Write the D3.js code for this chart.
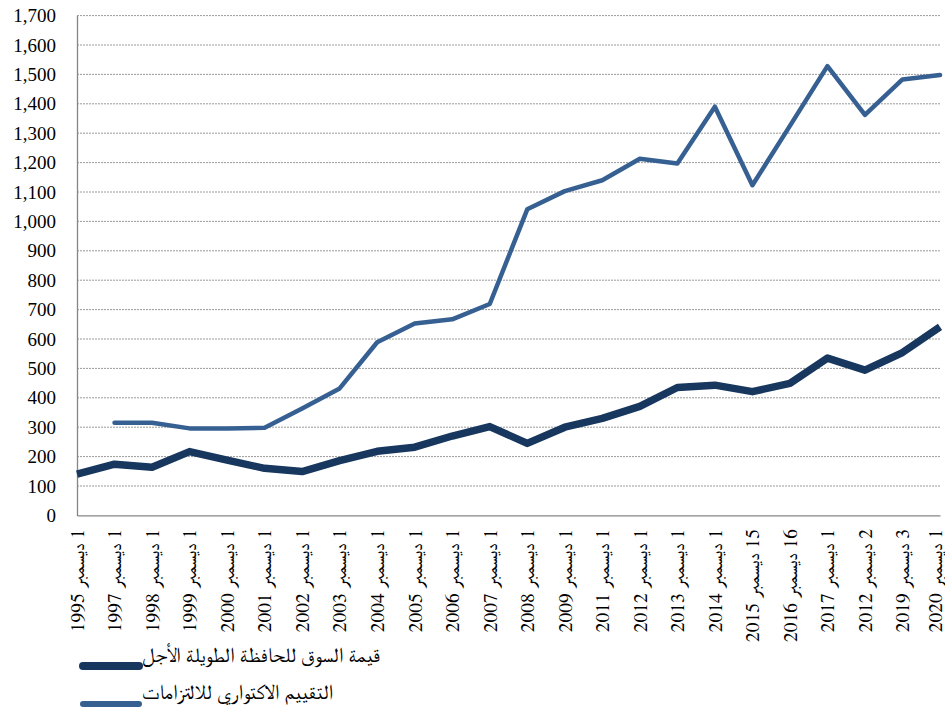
<!DOCTYPE html>
<html><head><meta charset="utf-8">
<script src="https://cdn.jsdelivr.net/npm/d3@7"></script>
<style>
html,body{margin:0;padding:0;background:#fff;}
</style></head>
<body><svg id="c" width="945" height="713"></svg>
<script>
const categories = ["1 ديسمبر 1995","1 ديسمبر 1997","1 ديسمبر 1998","1 ديسمبر 1999","1 ديسمبر 2000","1 ديسمبر 2001","1 ديسمبر 2002","1 ديسمبر 2003","1 ديسمبر 2004","1 ديسمبر 2005","1 ديسمبر 2006","1 ديسمبر 2007","1 ديسمبر 2008","1 ديسمبر 2009","1 ديسمبر 2011","1 ديسمبر 2012","1 ديسمبر 2013","1 ديسمبر 2014","15 ديسمبر 2015","16 ديسمبر 2016","1 ديسمبر 2017","2 ديسمبر 2012","3 ديسمبر 2019","1 ديسمبر 2020"];
const marketValue = [140,174,164,217,188,160,149,186,218,232,270,302,245,300,330,371,435,443,421,449,535,494,554,641];
const actuarialValue = [null,315,315,296,296,298,364,432,589,653,667,719,1041,1103,1140,1213,1197,1390,1123,1325,1528,1362,1483,1498];
const seriesNames = ["قيمة السوق للحافظة الطويلة الأجل","التقييم الاكتواري للالتزامات"];
const yTicks = d3.range(0,1701,100);

const svg = d3.select("#c");
const L=77, R=940, T=15.6, B=515.4;
const x = d3.scalePoint().domain(categories).range([L,R]).padding(0);
const y = d3.scaleLinear().domain([0,1700]).range([B,T]);

// gridlines
svg.append("g").selectAll("line").data(yTicks.filter(d=>d>0)).join("line")
  .attr("x1",L).attr("x2",R).attr("y1",d=>y(d)).attr("y2",d=>y(d))
  .attr("stroke","#9a9a9a").attr("stroke-width",1).attr("stroke-dasharray","2,1");

// y axis
const ya = svg.append("g").attr("transform",`translate(${L},0)`)
  .call(d3.axisLeft(y).tickValues(yTicks).tickFormat(d3.format(",")).tickSize(0).tickPadding(21));
ya.attr("font-family","Liberation Serif");
ya.select(".domain").attr("stroke","#868686").attr("stroke-width",1.3);
ya.selectAll("text").attr("font-size",19).attr("fill","#000").attr("font-family","Liberation Serif");

// x axis
const xa = svg.append("g").attr("transform",`translate(0,${B})`)
  .call(d3.axisBottom(x).tickSize(0).tickFormat(""));
xa.select(".domain").attr("stroke","#868686").attr("stroke-width",1.3);
svg.append("g").selectAll("text").data(categories).join("text")
  .attr("transform",(d,i)=>`translate(${Math.min(x(d),935)},529) rotate(-90)`)
  .attr("direction","rtl").attr("text-anchor","start").attr("dy","0.35em")
  .attr("font-size",19.5).attr("fill","#000").attr("font-family","FreeSerif").text(d=>d);

// lines
const line = d3.line().defined(d=>d[1]!=null).x(d=>x(d[0])).y(d=>y(d[1]));
svg.append("path").datum(categories.map((c,i)=>[c,actuarialValue[i]]))
  .attr("d",line).attr("fill","none").attr("stroke","#376092").attr("stroke-width",4.5)
  .attr("stroke-linejoin","round").attr("stroke-linecap","round");
svg.append("path").datum(categories.map((c,i)=>[c,marketValue[i]]))
  .attr("d",line).attr("fill","none").attr("stroke","#17375e").attr("stroke-width",7.5)
  .attr("stroke-linejoin","round").attr("stroke-linecap","butt");

// legend
const legColors = ["#17375e","#376092"];
const legW = [8,6];
const leg = svg.append("g");
seriesNames.forEach((n,i)=>{
  const yy = [666,704][i];
  leg.append("line").attr("x1",83).attr("x2",139).attr("y1",yy).attr("y2",yy)
    .attr("stroke",legColors[i]).attr("stroke-width",legW[i]).attr("stroke-linecap","round");
  leg.append("text").attr("x",142).attr("y",[655,692][i]).attr("dy","0.35em")
    .attr("font-size",21).attr("fill","#000").attr("font-family","FreeSerif").text(n);
});
</script></body></html>
